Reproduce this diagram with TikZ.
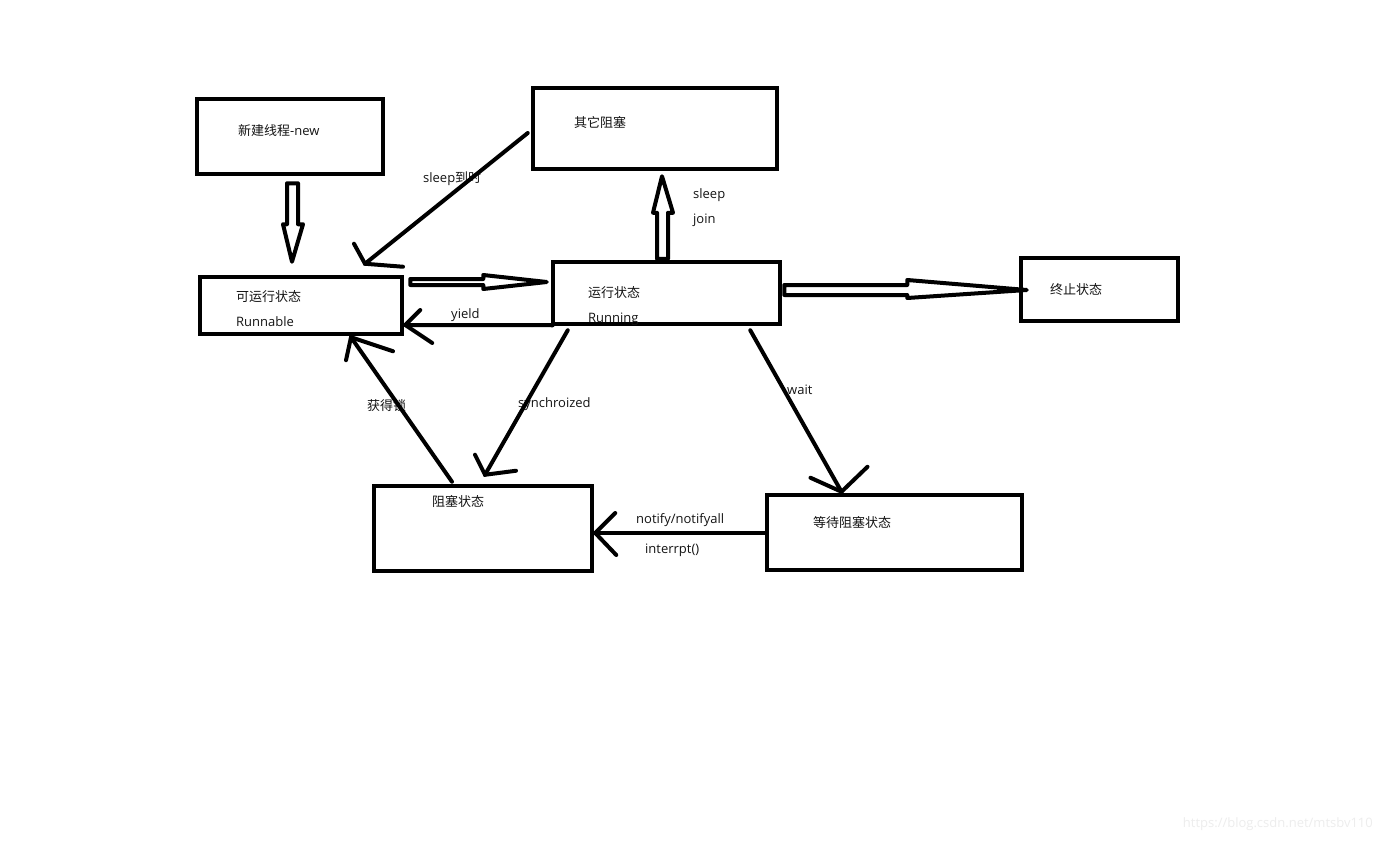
\documentclass[tikz,border=0pt]{standalone}
\usepackage{fontspec}
\setmainfont{Open Sans}
\newfontfamily\cjk{Noto Sans CJK SC}
\usetikzlibrary{calc}
\begin{document}
\begin{tikzpicture}[x=1pt,y=-1pt,
  box/.style={draw,line width=4.5pt,inner sep=0pt,fill=white},
  lbl/.style={font=\fontsize{13pt}{15pt}\selectfont,anchor=base west,inner sep=0pt,text=black!92},
  conn/.style={line width=4pt,line cap=round,line join=round},
  tipline/.style={line width=4pt,line cap=round},
  hollow/.style={line width=4pt,line join=round,fill=white}]
\useasboundingbox (0,0) rectangle (1383,840);
\fill[white] (0,0) rectangle (1383,840);

% boxes
\node[box,minimum width=186pt,minimum height=75pt] (new) at (290,136.5) {};
\node[box,minimum width=244pt,minimum height=81pt] (other) at (655,128.5) {};
\node[box,minimum width=202pt,minimum height=57pt] (runnable) at (301,305.5) {};
\node[box,minimum width=227pt,minimum height=62pt] (running) at (666.5,293) {};
\node[box,minimum width=157pt,minimum height=63pt] (term) at (1099.5,289.5) {};
\node[box,minimum width=218pt,minimum height=85pt] (blocked) at (483,528.5) {};
\node[box,minimum width=255pt,minimum height=75pt] (waiting) at (894.5,532.5) {};

% box texts
\node[lbl] (newT) at (238,135.5) {{\cjk 新建线程}-new};
\node[lbl] (otherT) at (574,127.5) {\cjk 其它阻塞};
\node[lbl] (runnableT1) at (236,301.5) {\cjk 可运行状态};
\node[lbl] (runnableT2) at (236,326.5) {Runnable};
\node[lbl] (runningT1) at (588,297.5) {\cjk 运行状态};
\node[lbl] (runningT2) at (588,322.5) {Running};
\node[lbl] (termT) at (1050,294.5) {\cjk 终止状态};
\node[lbl] (blockedT) at (432,506.5) {\cjk 阻塞状态};
\node[lbl] (waitingT) at (813,527.5) {\cjk 等待阻塞状态};

% connector labels
\node[lbl] (lSleepTo) at (423,182.5) {sleep{\cjk 到时}};
\node[lbl] (lSleep) at (693,198.5) {sleep};
\node[lbl] (lJoin) at (693,223.5) {join};
\node[lbl] (lYield) at (451,318.5) {yield};
\node[lbl] (lLock) at (367,410.5) {\cjk 获得锁};
\node[lbl] (lSync) at (518,407.5) {synchroized};
\node[lbl] (lWait) at (787,394.5) {wait};
\node[lbl] (lNotify) at (636,523.5) {notify/notifyall};
\node[lbl] (lInt) at (645,553.5) {interrpt()};

% hollow arrows
% new -> runnable
\draw[hollow] ($(new.south)+(-3,7)$) -- ++(11,0) -- ++(0,41) -- ++(5,0)
  -- ($(runnable.north)+(-9,-13)$) -- ($(new.south)+(-7,48)$) -- ++(4,0) -- cycle;
% runnable -> running
\draw[hollow] ($(runnable.east)+(6,-26.5)$) -- ++(73,0) -- ++(0,-4)
  -- ($(running.west)+(-4,-11)$) -- ($(runnable.east)+(79,-16.5)$) -- ++(0,-4) -- ++(-73,0) -- cycle;
% running -> other
\draw[hollow] ($(running.north)+(-9.5,-1)$) -- ++(0,-46) -- ++(-4,0)
  -- ($(other.south)+(7,5)$) -- ($(running.north)+(6.5,-47)$) -- ++(-5,0) -- ++(0,46) -- cycle;
% running -> term
\draw[hollow] ($(running.east)+(2,-8)$) -- ++(123,0) -- ++(0,-5)
  -- ($(term.west)+(8,0.5)$) -- ($(running.east)+(125,5)$) -- ++(0,-3) -- ++(-123,0) -- cycle;

% sleep到时: other -> runnable
\coordinate (a1s) at ($(other.west)+(-3,4.5)$);
\coordinate (a1t) at ($(runnable.north)+(64,-11)$);
\draw[conn] (a1s) -- (a1t);
\draw[tipline] ($(a1t)+(-11,-20)$) -- (a1t) -- ($(a1t)+(38,3)$);

% yield: running -> runnable
\coordinate (a2s) at ($(running.south west)+(2,-1)$);
\coordinate (a2t) at ($(runnable.east)+(1,19.5)$);
\draw[conn] (a2s) -- (a2t);
\draw[tipline] ($(a2t)+(15,-15)$) -- (a2t) -- ($(a2t)+(27,18)$);

% 获得锁: blocked -> runnable
\coordinate (a3s) at ($(blocked.north)+(-31,-2)$);
\coordinate (a3t) at ($(runnable.south)+(50,1)$);
\draw[conn] (a3s) -- (a3t);
\draw[tipline] ($(a3t)+(-5,23)$) -- (a3t) -- ($(a3t)+(42,14)$);

% synchroized: running -> blocked
\coordinate (a4s) at ($(running.south west)+(17,4)$);
\coordinate (a4t) at ($(blocked.north)+(2,-9)$);
\draw[conn] (a4s) -- (a4t);
\draw[tipline] ($(a4t)+(-10,-20)$) -- (a4t) -- ($(a4t)+(31,-4)$);

% wait: running -> waiting
\coordinate (a5s) at ($(running.south east)+(-32,4)$);
\coordinate (a5t) at ($(waiting.north)+(-53,-1)$);
\draw[conn] (a5s) -- (a5t);
\draw[tipline] ($(a5t)+(-31,-14)$) -- (a5t) -- ($(a5t)+(26,-25)$);

% notify: waiting -> blocked
\coordinate (a6s) at ($(waiting.west)+(0,0.5)$);
\coordinate (a6t) at ($(blocked.east)+(1,4.5)$);
\draw[conn] (a6s) -- (a6t);
\draw[tipline] ($(a6t)+(20,-20)$) -- (a6t) -- ($(a6t)+(21,22)$);

% watermark
\node[font=\fontsize{13pt}{15pt}\selectfont,anchor=base east,inner sep=0pt,text=black!7] (wm) at (1373,827) {https://blog.csdn.net/mtsbv110};
\end{tikzpicture}
\end{document}
